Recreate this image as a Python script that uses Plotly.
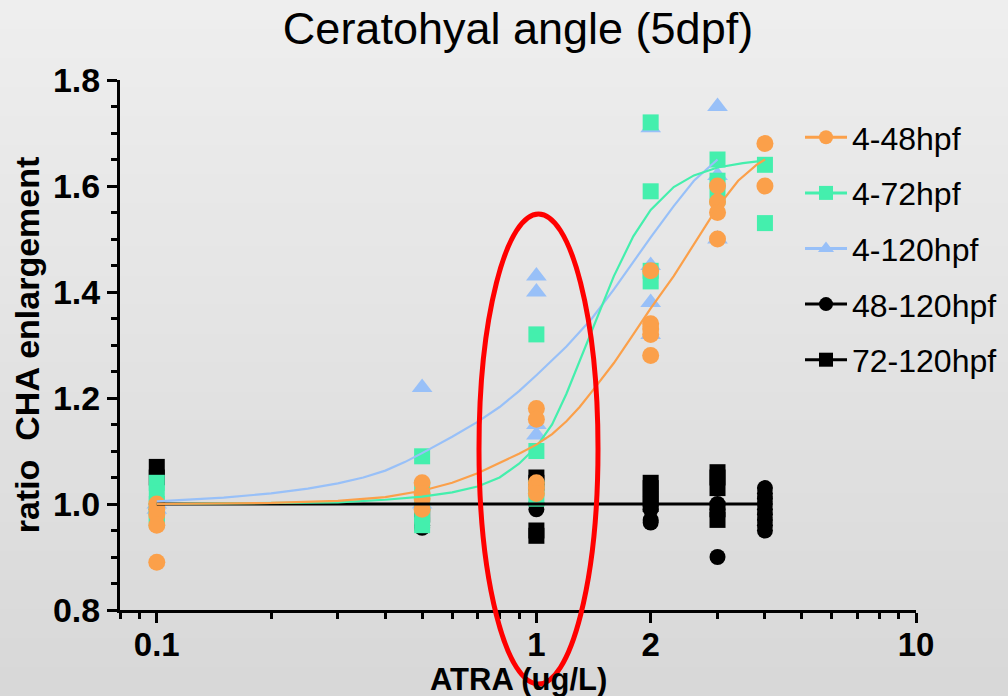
import plotly.graph_objects as go

# ---------------- data ----------------
chart_title = "Ceratohyal angle (5dpf)"
x_title = "ATRA (ug/L)"
y_title = "ratio  CHA enlargement"
series_names = ["4-48hpf", "4-72hpf", "4-120hpf", "48-120hpf", "72-120hpf"]

x_major_ticks = [0.1, 1, 2, 10]
x_major_text = ["0.1", "1", "2", "10"]
x_minor_ticks = [0.08, 0.09, 0.2, 0.3, 0.4, 0.5, 0.6, 0.7, 0.8, 0.9,
                 3, 4, 5, 6, 7, 8, 9]

# individual measurements (dose, ratio)
orange_x = [0.1] * 5 + [0.5] * 4 + [1] * 5 + [2] * 5 + [3] * 4 + [4] * 2
orange_y = [1.00, 0.99, 0.98, 0.96, 0.89,
            1.04, 1.02, 1.01, 0.99,
            1.18, 1.16, 1.04, 1.03, 1.02,
            1.44, 1.34, 1.33, 1.32, 1.28,
            1.60, 1.57, 1.55, 1.50,
            1.68, 1.60]

green_x = [0.1] * 5 + [0.5] * 5 + [1] * 4 + [2] * 4 + [3] * 3 + [4] * 2
green_y = [1.04, 1.02, 1.00, 0.98, 0.97,
           1.09, 1.03, 1.00, 0.98, 0.96,
           1.32, 1.10, 1.03, 1.01,
           1.72, 1.59, 1.44, 1.42,
           1.65, 1.61, 1.58,
           1.64, 1.53]

blue_x = [0.1] * 2 + [0.5] * 2 + [1] * 4 + [2] * 4 + [3] * 3
blue_y = [1.00, 0.99,
          1.22, 1.00,
          1.43, 1.40, 1.15, 1.13,
          1.71, 1.45, 1.38, 1.32,
          1.75, 1.62, 1.50]

blackc_x = [0.1] * 2 + [0.5] * 2 + [1] * 2 + [2] * 3 + [3] * 3 + [4] * 9
blackc_y = [1.00, 0.99,
            0.96, 0.955,
            1.00, 0.99,
            0.99, 0.97, 0.965,
            1.00, 0.99, 0.90,
            1.03, 1.02, 1.01, 1.00, 0.99, 0.98, 0.97, 0.96, 0.95]

blacks_x = [0.1] * 2 + [0.5] * 1 + [1] * 4 + [2] * 4 + [3] * 5
blacks_y = [1.07, 1.05,
            0.98,
            1.05, 1.04, 0.95, 0.94,
            1.04, 1.03, 1.01, 1.00,
            1.06, 1.05, 1.03, 0.99, 0.97]

# fitted curves
orange_fit_x = [0.1, 0.2, 0.3, 0.4, 0.5, 0.6, 0.7, 0.8, 0.9, 1.0, 1.1, 1.2,
                1.3, 1.4, 1.5, 1.6, 1.8, 2.0, 2.3, 2.6, 3.0, 3.4, 3.8, 4.0]
orange_fit_y = [1.000, 1.002, 1.006, 1.013, 1.025, 1.040, 1.058, 1.077, 1.095,
                1.112, 1.132, 1.156, 1.183, 1.212, 1.240, 1.266, 1.320, 1.369,
                1.430, 1.490, 1.560, 1.610, 1.640, 1.650]

green_fit_x = [0.1, 0.3, 0.4, 0.5, 0.6, 0.7, 0.8, 0.9, 1.0, 1.1, 1.2, 1.3,
               1.4, 1.6, 1.8, 2.0, 2.3, 2.6, 3.0, 3.5, 4.0]
green_fit_y = [1.000, 1.003, 1.008, 1.014, 1.022, 1.033, 1.050, 1.076, 1.108,
               1.150, 1.208, 1.270, 1.330, 1.430, 1.505, 1.555, 1.598, 1.620,
               1.635, 1.643, 1.648]

blue_fit_x = [0.1, 0.15, 0.2, 0.25, 0.3, 0.35, 0.4, 0.45, 0.5, 0.6, 0.7, 0.8,
              0.9, 1.0, 1.2, 1.4, 1.6, 1.8, 2.0, 2.3, 2.6, 3.0]
blue_fit_y = [1.005, 1.012, 1.020, 1.029, 1.039, 1.050, 1.063, 1.079, 1.096,
              1.127, 1.155, 1.183, 1.213, 1.243, 1.297, 1.350, 1.405, 1.457,
              1.503, 1.562, 1.610, 1.650]

black_fit_x = [0.1, 4.0]
black_fit_y = [1.0, 1.0]

# ---------------- style ----------------
C_OR = "#FBA04A"
C_GR = "#44EFAD"
C_BL = "#98C0F8"
C_BK = "#000000"
FONT = "Liberation Sans, Arial, sans-serif"

W, H = 1008, 696
ML, MR, MT, MB = 120, 92, 80, 86

fig = go.Figure()


def pts(x, y, color, symbol, size):
    fig.add_trace(go.Scatter(x=x, y=y, mode="markers", showlegend=False,
                             marker=dict(color=color, symbol=symbol, size=size,
                                         line=dict(width=0)),
                             hoverinfo="x+y"))


def fit(x, y, color, width):
    fig.add_trace(go.Scatter(x=x, y=y, mode="lines", showlegend=False,
                             line=dict(color=color, width=width, shape="linear"),
                             hoverinfo="skip"))


pts(blackc_x, blackc_y, C_BK, "circle", 16)
pts(blacks_x, blacks_y, C_BK, "square", 16)
pts(blue_x, blue_y, C_BL, "triangle-up", 18)
pts(green_x, green_y, C_GR, "square", 16)
pts(orange_x, orange_y, C_OR, "circle", 17)

fit(black_fit_x, black_fit_y, C_BK, 3)
fit(blue_fit_x, blue_fit_y, C_BL, 2.2)
fit(green_fit_x, green_fit_y, C_GR, 2.2)
fit(orange_fit_x, orange_fit_y, C_OR, 2.2)

# legend entries
leg_styles = [(C_OR, "circle"), (C_GR, "square"), (C_BL, "triangle-up"),
              (C_BK, "circle"), (C_BK, "square")]
for i, (name, (col, sym)) in enumerate(zip(series_names, leg_styles)):
    fig.add_trace(go.Scatter(x=[None], y=[None], mode="lines+markers", name=name,
                             legendgroup=f"g{i}",
                             line=dict(color=col, width=3),
                             marker=dict(color=col, symbol=sym, size=14)))

# background gradient
shapes = []
N = 48
pw = W - ML - MR
ph = H - MT - MB
for i in range(N):
    t = i / (N - 1)
    c = round(238 - 22 * t)
    y_top = i * H / N
    y_bot = (i + 1) * H / N + 1
    shapes.append(dict(type="rect", xref="paper", yref="paper", layer="below",
                       x0=-ML / pw - 0.01, x1=1 + MR / pw + 0.01,
                       y0=(H - MB - y_bot) / ph, y1=(H - MB - y_top) / ph,
                       line=dict(width=0), fillcolor=f"rgb({c},{c},{c})"))

# red ellipse highlighting 1 ug/L
shapes.append(dict(type="circle", xref="paper", yref="paper", layer="above",
                   x0=(479 - ML) / pw, x1=(598 - ML) / pw,
                   y0=(H - MB - 684) / ph, y1=(H - MB - 214) / ph,
                   line=dict(color="#FF0000", width=5)))

fig.update_layout(
    width=W, height=H, autosize=False,
    margin=dict(l=ML, r=MR, t=MT, b=MB, autoexpand=False),
    paper_bgcolor="#e6e6e6",
    plot_bgcolor="rgba(0,0,0,0)",
    font=dict(family=FONT, color="black"),
    title=dict(text=chart_title, x=0.5, xref="paper", xanchor="center",
               y=1 - 44 / H, yanchor="bottom",
               font=dict(size=45, family=FONT, color="black")),
    shapes=shapes,
    annotations=[dict(text=x_title, xref="paper", yref="paper", x=0.5, y=0,
                      xanchor="center", yanchor="top", yshift=-51,
                      showarrow=False, borderpad=0,
                      font=dict(size=31, family=FONT, weight="bold", color="black"))],
    showlegend=True,
    legend=dict(x=(800 - ML) / pw, y=1 - (110 - MT) / ph, xanchor="left", yanchor="top",
                bgcolor="rgba(0,0,0,0)", borderwidth=0,
                font=dict(size=32, family=FONT, color="black"),
                tracegroupgap=11, itemwidth=42),
    xaxis=dict(type="log", range=[-1.0969, 1.0], automargin=False,
               tickmode="array", tickvals=x_major_ticks, ticktext=x_major_text,
               ticks="outside", ticklen=10, tickwidth=3, tickcolor="black",
               showline=True, linecolor="black", linewidth=3,
               showgrid=False, zeroline=False, ticklabelstandoff=-7,
               tickfont=dict(size=33, family=FONT, weight="bold"),
               minor=dict(tickmode="array", tickvals=x_minor_ticks, ticks="outside",
                          ticklen=6, tickwidth=3, tickcolor="black", showgrid=False)),
    yaxis=dict(range=[0.8, 1.8], dtick=0.2, tick0=0.8, tickformat=".1f",
               automargin=False,
               ticks="outside", ticklen=10, tickwidth=3, tickcolor="black",
               showline=True, linecolor="black", linewidth=3,
               showgrid=False, zeroline=False,
               tickfont=dict(size=34, family=FONT, weight="bold"),
               minor=dict(dtick=0.05, ticks="outside", ticklen=6, tickwidth=3,
                          tickcolor="black", showgrid=False),
               title=dict(text=y_title, standoff=4,
                          font=dict(size=34, family=FONT, weight="bold"))),
)

fig.write_html("out.html")
